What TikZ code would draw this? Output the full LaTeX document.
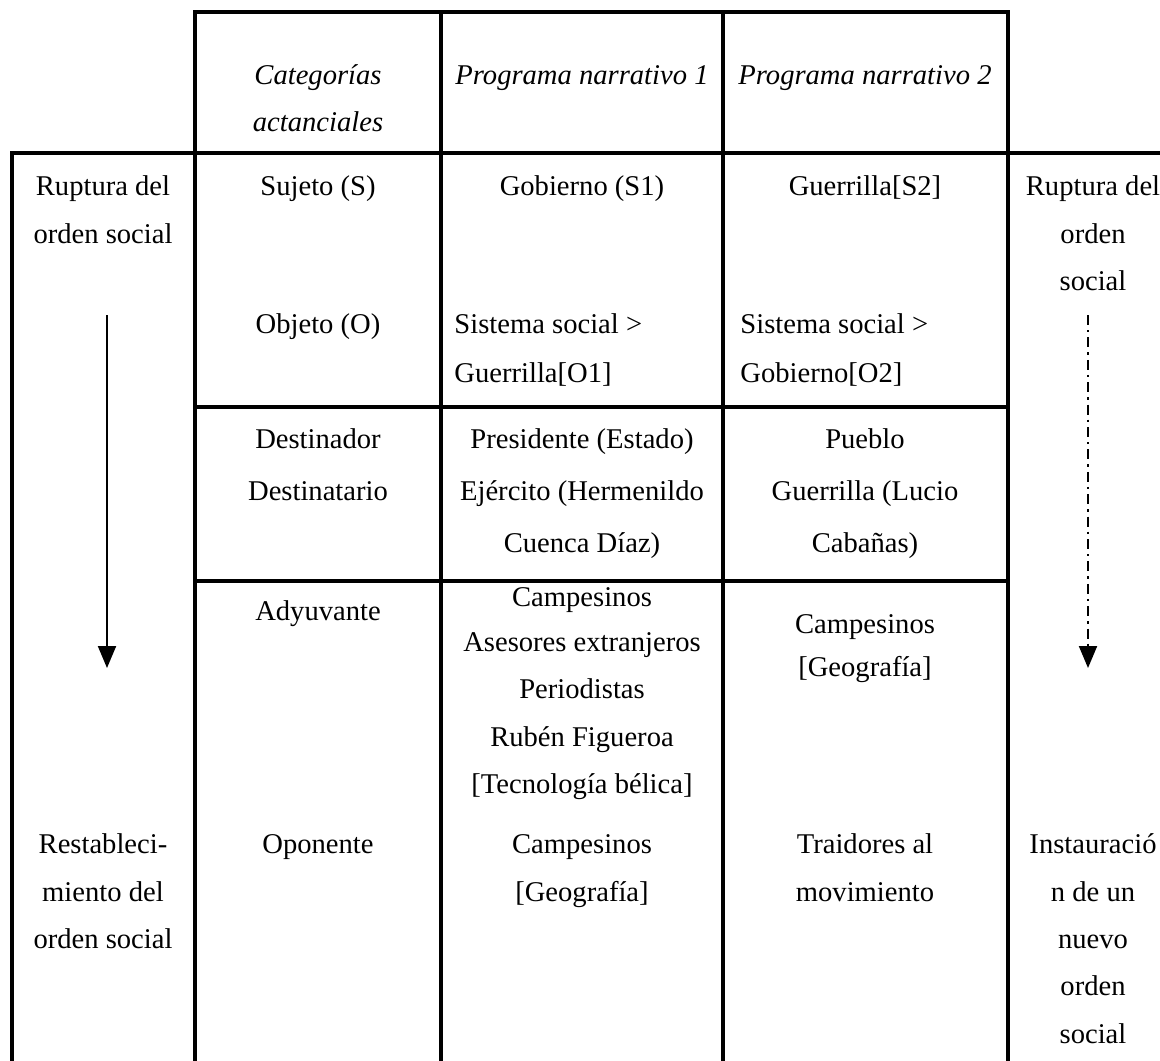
\documentclass[tikz,border=0pt]{standalone}
\usepackage{fontspec}
\setmainfont{Liberation Serif}
\usetikzlibrary{arrows.meta}

\begin{document}
\begin{tikzpicture}[x=0.5pt,y=-0.5pt]
      \tikzstyle cell=[anchor=base, inner sep=0pt, font=\fontsize{14.3}{17}\selectfont]
      \tikzstyle cellL=[cell, anchor=base west]
      \tikzstyle head=[cell, font=\fontsize{14.3}{17}\selectfont\itshape]
      \tikzstyle rule=[line width=1.7pt, line cap=rect]
      \tikzstyle flow=[line width=1pt, -{Triangle[length=11pt,width=9pt]}]
      \useasboundingbox (0,0) rectangle (1160,1060);
      \clip (0,0) rectangle (1160,1060);
      % rejilla de la tabla
      \draw [rule] (195,12) -- (1008,12);
      \draw [rule] (12,153) -- (1160,153);
      \draw [rule] (195,407) -- (1008,407);
      \draw [rule] (195,581) -- (1008,581);
      \draw [rule] (12,153) -- (12,1060);
      \draw [rule] (195,12) -- (195,1060);
      \draw [rule] (441,12) -- (441,1060);
      \draw [rule] (723,12) -- (723,1060);
      \draw [rule] (1008,12) -- (1008,1060);
      % encabezados
      \node [head] (cat1) at (318,84) {Categorías};
      \node [head] (cat2) at (318,131) {actanciales};
      \node [head] (pn1) at (582,84) {Programa narrativo 1};
      \node [head] (pn2) at (865,84) {Programa narrativo 2};
      % columna izquierda
      \node [cell] (ruptL1) at (103,195) {Ruptura del};
      \node [cell] (ruptL2) at (103,243) {orden social};
      \node [cell] (restL1) at (103,853) {Restableci-};
      \node [cell] (restL2) at (103,901) {miento del};
      \node [cell] (restL3) at (103,948) {orden social};
      % categorias
      \node [cell] (suj) at (318,195) {Sujeto (S)};
      \node [cell] (obj) at (318,333) {Objeto (O)};
      \node [cell] (dtor) at (318,448) {Destinador};
      \node [cell] (dtario) at (318,500) {Destinatario};
      \node [cell] (ady) at (318,620) {Adyuvante};
      \node [cell] (opo) at (318,853) {Oponente};
      % programa narrativo 1
      \node [cell] (suj1) at (582,195) {Gobierno (S1)};
      \node [cellL] (obj1a) at (454,333) {Sistema social >};
      \node [cellL] (obj1b) at (454,382) {Guerrilla[O1]};
      \node [cell] (dtor1) at (582,448) {Presidente (Estado)};
      \node [cell] (dtario1a) at (582,500) {Ejército (Hermenildo};
      \node [cell] (dtario1b) at (582,552) {Cuenca Díaz)};
      \node [cell] (ady1a) at (582,606) {Campesinos};
      \node [cell] (ady1b) at (582,651) {Asesores extranjeros};
      \node [cell] (ady1c) at (582,698) {Periodistas};
      \node [cell] (ady1d) at (582,746) {Rubén Figueroa};
      \node [cell] (ady1e) at (582,793) {[Tecnología bélica]};
      \node [cell] (opo1a) at (582,853) {Campesinos};
      \node [cell] (opo1b) at (582,901) {[Geografía]};
      % programa narrativo 2
      \node [cell] (suj2) at (865,195) {Guerrilla[S2]};
      \node [cellL] (obj2a) at (740,333) {Sistema social >};
      \node [cellL] (obj2b) at (740,382) {Gobierno[O2]};
      \node [cell] (dtor2) at (865,448) {Pueblo};
      \node [cell] (dtario2a) at (865,500) {Guerrilla (Lucio};
      \node [cell] (dtario2b) at (865,552) {Cabañas)};
      \node [cell] (ady2a) at (865,633) {Campesinos};
      \node [cell] (ady2b) at (865,676) {[Geografía]};
      \node [cell] (opo2a) at (865,853) {Traidores al};
      \node [cell] (opo2b) at (865,901) {movimiento};
      % columna derecha
      \node [cell] (ruptR1) at (1093,195) {Ruptura del};
      \node [cell] (ruptR2) at (1093,243) {orden};
      \node [cell] (ruptR3) at (1093,290) {social};
      \node [cell] (instR1) at (1093,853) {Instauració};
      \node [cell] (instR2) at (1093,901) {n de un};
      \node [cell] (instR3) at (1093,948) {nuevo};
      \node [cell] (instR4) at (1093,995) {orden};
      \node [cell] (instR5) at (1093,1043) {social};
      % flechas
      \coordinate (arrL0) at (107,315);
      \coordinate (arrL1) at (107,668);
      \coordinate (arrR0) at (1088,315);
      \coordinate (arrR1) at (1088,668);
      \draw [flow] (arrL0) -- (arrL1);
      \draw [flow, dash pattern=on 5pt off 2.5pt on 1.2pt off 2.5pt] (arrR0) -- (arrR1);
    \end{tikzpicture}
\end{document}
